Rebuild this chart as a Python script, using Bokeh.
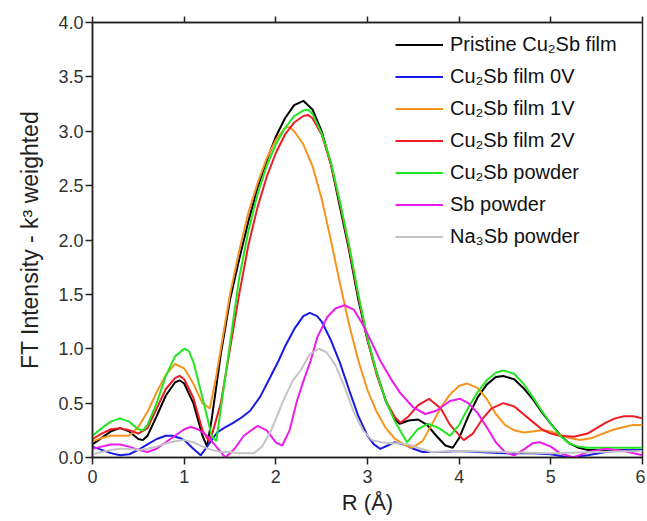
from bokeh.plotting import figure
from bokeh.models import LinearAxis, Legend, LegendItem, FixedTicker, NumeralTickFormatter, Range1d
from bokeh.embed import file_html
from bokeh.resources import INLINE

# ---------------- data ----------------
black_r = [0,0.1,0.2,0.3,0.4,0.5,0.55,0.6,0.7,0.8,0.9,0.95,1.0,1.1,1.2,1.25,1.3,1.4,1.5,1.6,1.7,1.8,1.9,2.0,2.1,2.2,2.3,2.4,2.5,2.6,2.7,2.8,2.9,3.0,3.1,3.2,3.3,3.35,3.45,3.55,3.65,3.75,3.85,3.93,4.0,4.1,4.2,4.3,4.4,4.48,4.6,4.7,4.8,4.9,5.0,5.1,5.2,5.3,5.4,5.6,5.8,6.0]
black_v = [0.12,0.18,0.24,0.27,0.24,0.17,0.16,0.2,0.38,0.57,0.69,0.71,0.68,0.5,0.2,0.1,0.35,0.95,1.45,1.82,2.17,2.48,2.73,2.95,3.12,3.24,3.28,3.2,3.0,2.7,2.3,1.9,1.45,1.08,0.78,0.52,0.35,0.31,0.34,0.35,0.3,0.2,0.11,0.09,0.18,0.38,0.55,0.67,0.74,0.75,0.72,0.64,0.54,0.42,0.31,0.21,0.13,0.09,0.07,0.07,0.07,0.07]

blue_r = [0,0.1,0.2,0.3,0.4,0.5,0.6,0.7,0.8,0.87,0.95,1.0,1.1,1.18,1.25,1.36,1.45,1.54,1.63,1.72,1.83,1.94,2.03,2.1,2.2,2.3,2.37,2.45,2.5,2.6,2.7,2.8,2.9,3.0,3.07,3.14,3.22,3.29,3.4,3.5,3.6,3.8,4.0,4.2,4.5,4.8,5.0,5.2,5.4,5.6,5.8,6.0]
blue_v = [0.1,0.07,0.04,0.02,0.03,0.07,0.12,0.17,0.2,0.2,0.18,0.16,0.08,0.02,0.1,0.23,0.28,0.32,0.37,0.43,0.56,0.74,0.89,1.02,1.18,1.3,1.33,1.3,1.25,1.08,0.87,0.62,0.38,0.2,0.12,0.08,0.11,0.14,0.12,0.08,0.05,0.05,0.06,0.05,0.04,0.04,0.03,0.0,0.02,0.05,0.07,0.07]

orange_r = [0,0.1,0.2,0.3,0.4,0.5,0.6,0.7,0.8,0.9,1.0,1.1,1.2,1.28,1.35,1.4,1.5,1.6,1.7,1.8,1.9,2.0,2.1,2.15,2.2,2.3,2.4,2.5,2.6,2.7,2.8,2.9,3.0,3.1,3.2,3.3,3.4,3.49,3.6,3.7,3.8,3.9,4.0,4.09,4.2,4.3,4.4,4.5,4.6,4.7,4.8,4.9,5.0,5.1,5.2,5.32,5.45,5.6,5.7,5.8,5.9,6.0]
orange_v = [0.15,0.18,0.2,0.2,0.2,0.28,0.42,0.6,0.76,0.86,0.82,0.68,0.5,0.45,0.75,1.0,1.5,1.9,2.25,2.52,2.75,2.92,3.03,3.04,3.0,2.88,2.68,2.38,2.0,1.6,1.22,0.89,0.62,0.42,0.27,0.17,0.12,0.09,0.15,0.3,0.46,0.58,0.66,0.68,0.64,0.54,0.4,0.3,0.25,0.23,0.24,0.25,0.24,0.21,0.18,0.16,0.18,0.23,0.26,0.28,0.3,0.3]

red_r = [0,0.1,0.2,0.3,0.4,0.5,0.6,0.7,0.8,0.9,0.95,1.0,1.1,1.2,1.27,1.3,1.4,1.5,1.6,1.7,1.8,1.9,2.0,2.1,2.2,2.3,2.35,2.4,2.5,2.6,2.7,2.8,2.9,3.0,3.1,3.2,3.3,3.36,3.45,3.55,3.67,3.8,3.9,4.05,4.15,4.25,4.35,4.48,4.6,4.7,4.8,4.9,5.0,5.1,5.25,5.4,5.5,5.6,5.7,5.8,5.9,6.0]
red_v = [0.17,0.22,0.26,0.27,0.25,0.22,0.27,0.45,0.63,0.73,0.75,0.72,0.55,0.25,0.15,0.2,0.5,1.0,1.5,1.95,2.3,2.58,2.8,2.97,3.08,3.14,3.15,3.12,2.97,2.7,2.33,1.92,1.48,1.08,0.76,0.52,0.37,0.32,0.38,0.48,0.54,0.45,0.3,0.16,0.22,0.35,0.45,0.5,0.47,0.4,0.33,0.26,0.22,0.2,0.19,0.22,0.27,0.32,0.36,0.38,0.38,0.36]

green_r = [0,0.1,0.2,0.3,0.4,0.5,0.55,0.6,0.7,0.8,0.9,1.0,1.05,1.1,1.2,1.3,1.35,1.4,1.5,1.6,1.7,1.8,1.9,2.0,2.1,2.2,2.3,2.35,2.4,2.5,2.6,2.7,2.8,2.9,3.0,3.1,3.2,3.3,3.43,3.55,3.66,3.78,3.9,4.0,4.1,4.2,4.3,4.4,4.48,4.6,4.7,4.8,4.9,5.0,5.1,5.2,5.3,5.4,5.6,5.8,6.0]
green_v = [0.2,0.27,0.33,0.36,0.33,0.26,0.25,0.3,0.5,0.75,0.93,1.0,0.98,0.88,0.55,0.2,0.15,0.45,1.05,1.65,2.08,2.42,2.68,2.88,3.03,3.14,3.19,3.2,3.16,2.98,2.72,2.35,1.95,1.5,1.1,0.78,0.52,0.33,0.14,0.26,0.31,0.27,0.2,0.3,0.46,0.6,0.71,0.78,0.8,0.77,0.68,0.56,0.43,0.31,0.2,0.13,0.1,0.09,0.09,0.09,0.09]

magenta_r = [0,0.1,0.2,0.3,0.4,0.5,0.6,0.7,0.8,0.9,1.0,1.07,1.15,1.25,1.35,1.45,1.55,1.65,1.8,1.9,2.0,2.07,2.15,2.23,2.3,2.38,2.45,2.56,2.65,2.75,2.85,2.95,3.05,3.14,3.25,3.36,3.5,3.63,3.75,3.9,4.01,4.1,4.2,4.3,4.4,4.5,4.6,4.7,4.8,4.88,5.0,5.1,5.25,5.4,5.6,5.8,6.0]
magenta_v = [0.08,0.1,0.12,0.12,0.1,0.07,0.05,0.08,0.14,0.2,0.26,0.28,0.26,0.2,0.1,0.0,0.08,0.2,0.29,0.25,0.14,0.11,0.25,0.52,0.7,0.89,1.1,1.29,1.37,1.4,1.36,1.22,1.05,0.89,0.73,0.59,0.46,0.4,0.43,0.52,0.54,0.5,0.41,0.28,0.14,0.05,0.02,0.07,0.13,0.14,0.1,0.04,0.0,0.05,0.08,0.06,0.02]

gray_r = [0,0.1,0.2,0.3,0.4,0.5,0.6,0.7,0.8,0.9,1.0,1.1,1.2,1.3,1.4,1.5,1.6,1.76,1.85,1.95,2.08,2.18,2.27,2.37,2.47,2.55,2.65,2.75,2.85,2.95,3.05,3.15,3.25,3.35,3.45,3.55,3.7,4.0,4.5,5.0,5.5,6.0]
gray_v = [0.03,0.05,0.07,0.08,0.08,0.07,0.08,0.1,0.13,0.15,0.16,0.14,0.1,0.07,0.05,0.05,0.04,0.04,0.1,0.25,0.52,0.7,0.8,0.95,1.0,0.97,0.85,0.65,0.42,0.25,0.16,0.14,0.13,0.13,0.12,0.09,0.05,0.06,0.05,0.04,0.05,0.06]

labels = ["Pristine Cu\u2082Sb film", "Cu\u2082Sb film 0V", "Cu\u2082Sb film 1V",
          "Cu\u2082Sb film 2V", "Cu\u2082Sb powder", "Sb powder", "Na\u2083Sb powder"]
colors = ["#000000", "#1a1ae6", "#f7941d", "#ee1c24", "#22e622", "#ec1cec", "#c4c4c4"]
series = [(black_r, black_v), (blue_r, blue_v), (orange_r, orange_v), (red_r, red_v),
          (green_r, green_v), (magenta_r, magenta_v), (gray_r, gray_v)]

x_ticks = [0, 1, 2, 3, 4, 5, 6]
y_ticks = [0.0, 0.5, 1.0, 1.5, 2.0, 2.5, 3.0, 3.5, 4.0]

FONT = "Liberation Sans"

p = figure(width=645, height=521, output_backend="svg", toolbar_location=None,
           x_range=Range1d(0, 6), y_range=Range1d(0, 4.0),
           min_border_left=92, min_border_right=3, min_border_top=22, min_border_bottom=64)
p.grid.visible = False
p.outline_line_color = "#222222"
p.outline_line_width = 1.5
p.background_fill_color = "white"
p.border_fill_color = "white"

for ax in (p.xaxis[0], p.yaxis[0]):
    ax.axis_line_color = "#222222"
    ax.axis_line_width = 1.5
    ax.major_tick_line_color = "#222222"
    ax.major_tick_line_width = 1.5
    ax.major_tick_out = 7
    ax.major_tick_in = 0
    ax.minor_tick_line_color = None
    ax.major_label_text_font = FONT
    ax.major_label_text_font_size = "18px"
    ax.major_label_text_color = "#333333"
    ax.axis_label_text_font = FONT
    ax.axis_label_text_font_size = "22px"
    ax.axis_label_text_font_style = "normal"
    ax.axis_label_text_color = "#222222"

p.xaxis.ticker = FixedTicker(ticks=x_ticks)
p.yaxis.ticker = FixedTicker(ticks=y_ticks)
p.yaxis.formatter = NumeralTickFormatter(format="0.0")
p.xaxis.axis_label = "R (\u00c5)"
p.yaxis.axis_label = "FT Intensity - k\u00b3 weighted"
p.xaxis.major_label_standoff = 5
p.yaxis.major_label_standoff = 2
p.xaxis.axis_label_standoff = 4
p.yaxis.axis_label_standoff = 12
p.yaxis.axis_label_text_font_size = "23px"

top = LinearAxis(ticker=FixedTicker(ticks=x_ticks), major_label_text_font_size="1px",
                 major_label_text_alpha=0, major_label_standoff=0,
                 axis_line_color="#222222", axis_line_width=1.5,
                 major_tick_line_color="#222222", major_tick_line_width=1.5,
                 major_tick_out=6, major_tick_in=0, minor_tick_line_color=None)
p.add_layout(top, "above")

items = []
for (r, v), lab, col in zip(series, labels, colors):
    rend = p.line(r, v, line_color=col, line_width=2)
    items.append(LegendItem(label=lab, renderers=[rend]))

legend = Legend(items=items, location=(298, 203), orientation="vertical",
                label_text_font=FONT, label_text_font_size="20px", label_text_color="#111111",
                glyph_width=48, glyph_height=25, label_height=25, label_standoff=7,
                spacing=7, padding=5, margin=0,
                border_line_alpha=0, background_fill_alpha=0)
p.add_layout(legend, "center")

open("out.html", "w").write(file_html(p, INLINE))
